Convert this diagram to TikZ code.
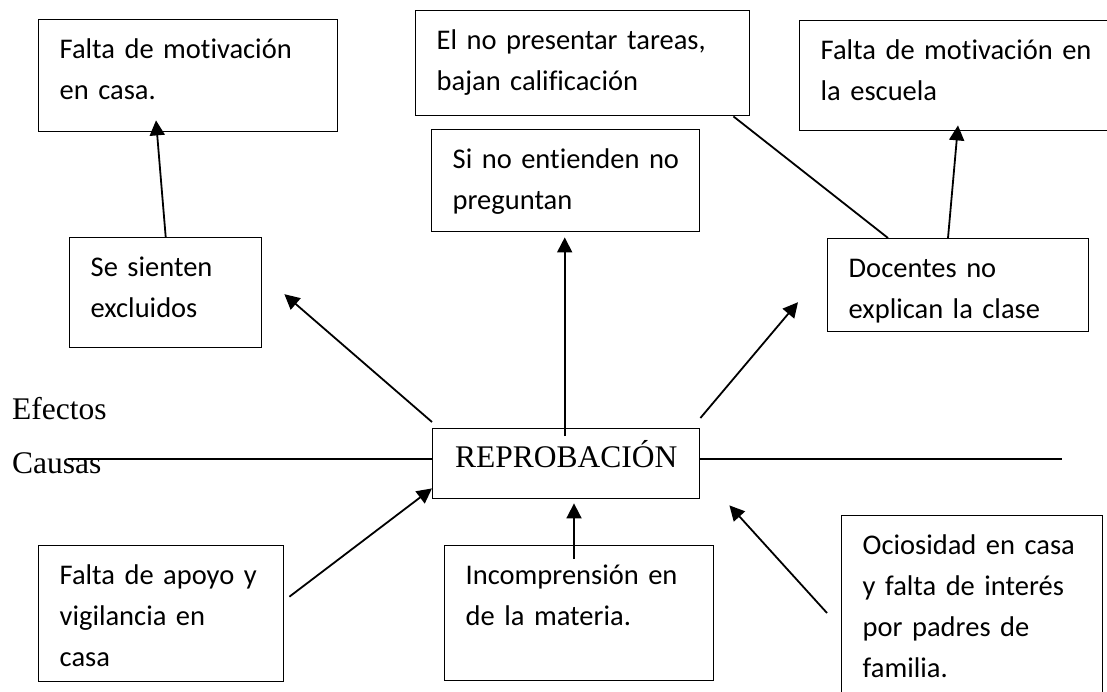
\documentclass[tikz,border=0pt]{standalone}
\usepackage{fontspec}
\setmainfont{Carlito}[Ligatures=NoCommon]
\newfontfamily\timesfont{Liberation Serif}
\usepackage{tikz}
\usetikzlibrary{arrows.meta,positioning}

\tikzset{
  caja/.style={draw=black, line width=1.4pt, anchor=north west, align=left,
    inner xsep=21pt, inner ysep=0pt, text height=39pt,
    font=\fontsize{28.5}{41}\selectfont},
  titulo/.style={inner sep=0pt, font=\timesfont\fontsize{31.5}{36}\selectfont},
  flecha/.style={line width=1.8pt, -{Triangle[length=15pt,width=15pt]}},
  linea/.style={line width=1.8pt}
}

\begin{document}
\begin{tikzpicture}[x=1pt,y=-1pt]
        \useasboundingbox (0,0) rectangle (1107,692);
        \clip (0,0) rectangle (1107,692);

        % efectos
        \node[caja, text width=257pt, text depth=73pt] (motcasa) at (38,19) {Falta de motivación\\en casa.};
        \node[caja, text width=292pt, text depth=66pt] (tareas) at (415,10) {El no presentar tareas,\\bajan calificación};
        \node[caja, text width=279pt, text depth=71pt] (escuela) at (799,20) {Falta de motivación en\\la escuela};
        \node[caja, text width=226pt, text depth=63pt] (preg) at (431,129) {\mbox{Si no entienden no}\\preguntan};
        \node[caja, text width=150pt, text depth=71pt] (excl) at (69,237) {Se sienten\\excluidos};
        \node[caja, text width=219pt, text depth=54pt] (doc) at (827,238) {Docentes no\\explican la clase};

        % problema central
        \node[titulo, anchor=base west] (efectos) at (12,419) {Efectos};
        \node[titulo, anchor=base west] (causas) at (12,473) {Causas};
        \node[titulo, draw=black, line width=1.4pt, anchor=north west, minimum width=267pt,
          text height=39pt, text depth=31pt] (repro) at (432,428) {REPROBACIÓN};
        \coordinate (ejeL) at (68,459);
        \coordinate (ejeR) at (1062,459);

        % causas
        \node[caja, text width=203pt, text depth=97pt] (apoyo) at (38,545) {Falta de apoyo y\\vigilancia en\\casa};
        \node[caja, text width=227pt, text depth=96pt] (incompr) at (444,545) {Incomprensión en\\de la materia.};
        \node[caja, text width=219pt, text depth=167pt] (ocios) at (841,515) {Ociosidad en casa\\y falta de interés\\por padres de\\familia.};

        \draw[linea] (ejeL) -- (ejeL -| repro.west);
        \draw[linea] (repro.east |- ejeR) -- (ejeR);

        \draw[flecha] (excl.north) -- ([xshift=118pt,yshift=12pt]motcasa.south west);
        \draw[flecha] ([yshift=6pt]repro.north west) -- ([xshift=22pt,yshift=-1.5pt]excl.east);
        \draw[flecha] ([xshift=-1.5pt,yshift=-8pt]repro.north) -- ([xshift=-1pt,yshift=-5pt]preg.south);
        \draw[flecha] ([yshift=10pt]repro.north east) -- ([xshift=-29pt,yshift=-17pt]doc.west);
        \draw[flecha] ([xshift=121pt]doc.north west) -- ([xshift=159pt,yshift=6pt]escuela.south west);
        \draw[linea] ([xshift=-17pt]tareas.south east) -- ([xshift=61pt]doc.north west);

        \draw[flecha] ([xshift=5pt,yshift=17pt]apoyo.east) -- ([yshift=11pt]repro.south west);
        \draw[flecha] ([xshift=130pt,yshift=-14pt]incompr.north west) -- ([xshift=142pt,yshift=-4pt]repro.south west);
        \draw[flecha] ([shift={(-14pt,-98pt)}]ocios.north west) -- ([shift={(29pt,-6pt)}]repro.south east);
    \end{tikzpicture}
\end{document}
